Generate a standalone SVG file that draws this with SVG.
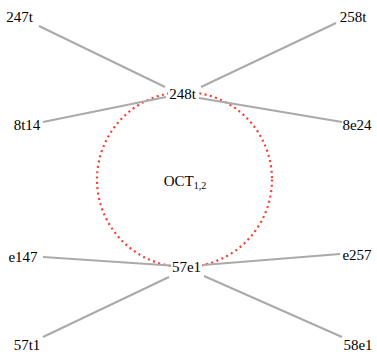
<svg xmlns="http://www.w3.org/2000/svg" width="377" height="358" viewBox="0 0 377 358">
<style>
.edge{stroke:#aaaaaa;stroke-width:2;fill:none}
.lbl{font-family:'Liberation Serif','Times New Roman',serif;font-size:15px;fill:#000;text-anchor:middle}
.bg{fill:#ffffff}
</style>
<rect width="377" height="358" fill="#ffffff"/>
<circle id="oct-ring" cx="184.5" cy="179.5" r="87.5" fill="none" stroke="#ff3b30" stroke-width="2.2" stroke-dasharray="2,3.4"/>
<g id="connectors">
<line class="edge" x1="39" y1="26" x2="165" y2="87"/>
<line class="edge" x1="336" y1="23" x2="201" y2="87"/>
<line class="edge" x1="43" y1="122" x2="166" y2="97"/>
<line class="edge" x1="199" y1="98" x2="342" y2="122"/>
<line class="edge" x1="43" y1="257" x2="170" y2="265.5"/>
<line class="edge" x1="340" y1="254" x2="203" y2="265"/>
<line class="edge" x1="43" y1="337" x2="169" y2="277"/>
<line class="edge" x1="204" y1="276" x2="342" y2="337"/>
</g>
<g id="n247t"><text class="lbl" x="19.5" y="22">247t</text></g>
<g id="n258t"><text class="lbl" x="353" y="22">258t</text></g>
<g id="n248t"><rect class="bg" x="168" y="88" width="30" height="13"/><text class="lbl" x="182.5" y="99">248t</text></g>
<g id="n8t14"><text class="lbl" x="27" y="130">8t14</text></g>
<g id="n8e24"><text class="lbl" x="357" y="130">8e24</text></g>
<g id="nOCT"><text class="lbl" x="185" y="186">OCT<tspan font-size="10" dy="3">1,2</tspan></text></g>
<g id="ne147"><text class="lbl" x="23" y="262">e147</text></g>
<g id="ne257"><text class="lbl" x="357" y="260">e257</text></g>
<g id="n57e1"><rect class="bg" x="171" y="260" width="31" height="14"/><text class="lbl" x="186.5" y="272">57e1</text></g>
<g id="n57t1"><text class="lbl" x="27" y="350">57t1</text></g>
<g id="n58e1"><text class="lbl" x="358" y="350">58e1</text></g>
</svg>
